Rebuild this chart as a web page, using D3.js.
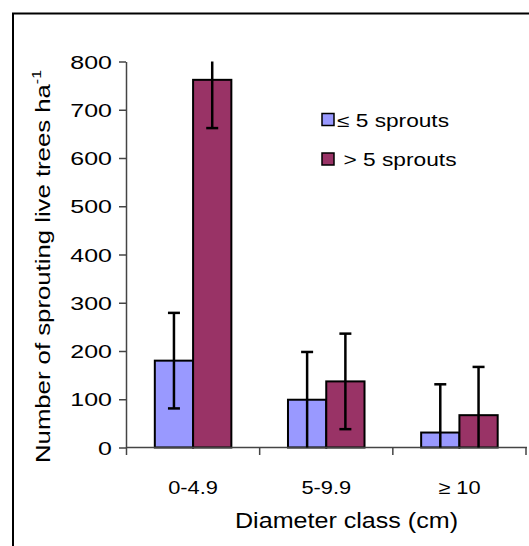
<!DOCTYPE html>
<html>
<head>
<meta charset="utf-8">
<script src="https://cdn.jsdelivr.net/npm/d3@7"></script>
<style>
  body { margin: 0; background: #fff; }
  svg text { font-family: "Liberation Sans", Arial, sans-serif; fill: #000; }
</style>
</head>
<body>
<svg id="chart" width="529" height="546"></svg>
<script>
const classes = ["0-4.9", "5-9.9", "\u2265 10"];
const seriesNames = ["\u2264 5 sprouts", "> 5 sprouts"];
const lowSprouts = [180, 99, 31];
const highSprouts = [762, 137, 67];
const lowErr = [99, 99, 100];
const highErr = [100, 99, 100];
const yTicks = [0, 100, 200, 300, 400, 500, 600, 700, 800];

const colors = ["#9999ff", "#993366"];
const svg = d3.select("#chart");

// the reference renders its Arial noticeably wider, so stretch text to match
function widen(sel, k) {
  sel.each(function () {
    const w = this.getComputedTextLength();
    d3.select(this).attr("textLength", w * k).attr("lengthAdjust", "spacingAndGlyphs");
  });
}

// outer frame (only top + left visible in the crop)
svg.append("path")
  .attr("d", "M13,546 V13.5 H529")
  .attr("fill", "none")
  .attr("stroke", "#000")
  .attr("stroke-width", 2);

const x = d3.scaleBand().domain(classes).range([126.5, 526]);
const xs = d3.scaleBand().domain([0, 1]).range([0, x.bandwidth()]).paddingInner(0).paddingOuter(0.74);
const y = d3.scaleLinear().domain([0, 800]).range([447.5, 61.5]);
const [yMin, yMax] = y.domain();

// y axis
const ya = svg.append("g").attr("transform", "translate(126,0)")
  .call(d3.axisLeft(y).tickValues(yTicks).tickSize(7).tickSizeOuter(0).tickPadding(7));
ya.select(".domain").attr("stroke", "#444").attr("stroke-width", 1.5);
ya.selectAll(".tick line").attr("stroke", "#444").attr("stroke-width", 1.5);
ya.selectAll("text").style("font-size", "18.5px").attr("fill", "#000").attr("dy", "0.36em")
  .call(widen, 1.35);

// bars
const groups = [lowSprouts, highSprouts];
const errs = [lowErr, highErr];
groups.forEach((vals, s) => {
  svg.append("g").selectAll("rect").data(vals).join("rect")
    .attr("x", (d, i) => x(classes[i]) + xs(s))
    .attr("y", d => y(d))
    .attr("width", xs.bandwidth())
    .attr("height", d => y(0) - y(d))
    .attr("fill", colors[s])
    .attr("stroke", "#000")
    .attr("stroke-width", 2);
});

// x axis
const xa = svg.append("g").attr("transform", "translate(0,447.5)")
  .call(d3.axisBottom(x).tickSize(0));
xa.select(".domain").remove();
svg.append("line").attr("x1", 126).attr("x2", 527).attr("y1", 447.5).attr("y2", 447.5)
  .attr("stroke", "#444").attr("stroke-width", 1.5);
svg.append("g").selectAll("line").data([126.5, x(classes[1]), x(classes[2]), 526]).join("line")
  .attr("x1", d => d).attr("x2", d => d).attr("y1", 447.5).attr("y2", 455)
  .attr("stroke", "#444").attr("stroke-width", 1.5);
xa.selectAll("text").style("font-size", "18.5px").attr("fill", "#000")
  .attr("y", 46.5).attr("dy", 0)
  .call(widen, 1.18);

// error bars, clipped to the axis range like the original
groups.forEach((vals, s) => {
  const g = svg.append("g").attr("stroke", "#000").attr("stroke-width", 2.5);
  vals.forEach((v, i) => {
    const cx = x(classes[i]) + xs(s) + xs.bandwidth() / 2;
    const hi = Math.min(yMax, v + errs[s][i]), lo = Math.max(yMin, v - errs[s][i]);
    g.append("line").attr("x1", cx).attr("x2", cx).attr("y1", y(hi)).attr("y2", y(lo));
    if (hi < yMax) g.append("line").attr("x1", cx - 6).attr("x2", cx + 6).attr("y1", y(hi)).attr("y2", y(hi));
    if (lo > yMin) g.append("line").attr("x1", cx - 6).attr("x2", cx + 6).attr("y1", y(lo)).attr("y2", y(lo));
  });
});

// axis titles
svg.append("text")
  .attr("transform", "translate(50,463) rotate(-90)")
  .attr("text-anchor", "start")
  .style("font-size", "21px")
  .html('Number of sprouting live trees ha<tspan dy="-9" font-size="13">-1</tspan>')
  .attr("textLength", 393).attr("lengthAdjust", "spacingAndGlyphs");
svg.append("text")
  .attr("x", 235).attr("y", 527.5)
  .attr("text-anchor", "start")
  .style("font-size", "22.3px")
  .text("Diameter class (cm)")
  .attr("textLength", 223).attr("lengthAdjust", "spacingAndGlyphs");

// legend
const leg = svg.append("g");
const legW = [112, 113];
seriesNames.forEach((name, i) => {
  const base = 126.5 + i * 39.5;
  leg.append("rect").attr("x", 322).attr("y", base - 13).attr("width", 12).attr("height", 12)
    .attr("fill", colors[i]).attr("stroke", "#000").attr("stroke-width", 1.5);
  leg.append("text").attr("x", i === 0 ? 337 : 343.5).attr("y", base)
    .style("font-size", "17.5px").text(name)
    .attr("textLength", legW[i]).attr("lengthAdjust", "spacingAndGlyphs");
});
</script>
</body>
</html>
